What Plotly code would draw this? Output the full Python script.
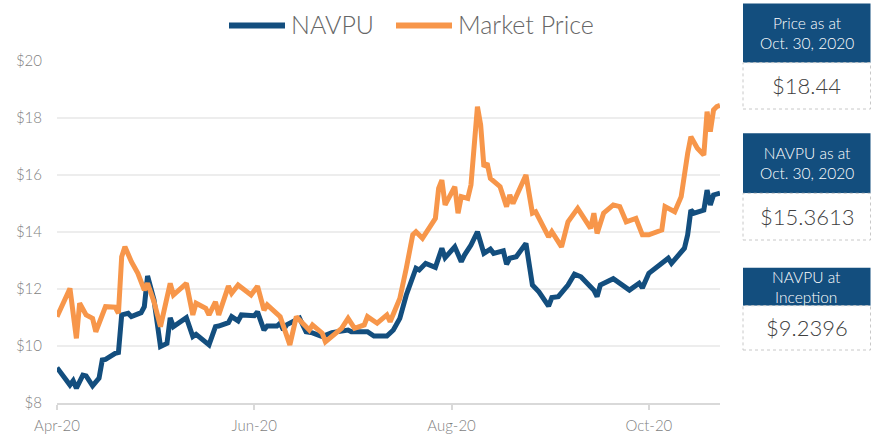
import plotly.graph_objects as go

# ---------------- data ----------------
navpu_dates = ["2020-04-08","2020-04-12","2020-04-13","2020-04-14","2020-04-16","2020-04-17","2020-04-19","2020-04-21","2020-04-22","2020-04-23","2020-04-26","2020-04-27","2020-04-28","2020-04-30",
               "2020-05-01","2020-05-04","2020-05-05","2020-05-06","2020-05-08","2020-05-10","2020-05-12","2020-05-13","2020-05-14","2020-05-18","2020-05-20","2020-05-21","2020-05-25","2020-05-27","2020-05-28","2020-05-31",
               "2020-06-01","2020-06-03","2020-06-04","2020-06-08","2020-06-09","2020-06-11","2020-06-12","2020-06-15","2020-06-16","2020-06-17","2020-06-18","2020-06-22","2020-06-24","2020-06-26","2020-06-29",
               "2020-07-02","2020-07-07","2020-07-08","2020-07-13","2020-07-15","2020-07-19","2020-07-21","2020-07-23","2020-07-25","2020-07-28","2020-07-29","2020-07-31",
               "2020-08-03","2020-08-05","2020-08-06","2020-08-09","2020-08-11","2020-08-12","2020-08-14","2020-08-16","2020-08-18","2020-08-20","2020-08-21","2020-08-24","2020-08-25","2020-08-26","2020-08-28","2020-08-31",
               "2020-09-02","2020-09-04","2020-09-07","2020-09-08","2020-09-10","2020-09-13","2020-09-15","2020-09-17","2020-09-21","2020-09-22","2020-09-23","2020-09-27",
               "2020-10-02","2020-10-05","2020-10-06","2020-10-08","2020-10-10","2020-10-12","2020-10-14","2020-10-15","2020-10-17","2020-10-19","2020-10-20","2020-10-21","2020-10-22","2020-10-25","2020-10-26","2020-10-27","2020-10-28","2020-10-30"]
navpu_values = [9.2396,8.63,8.78,8.52,8.98,8.95,8.60,8.87,9.51,9.53,9.74,9.77,11.09,11.15,
                11.03,11.17,11.38,12.46,11.61,9.98,10.09,10.99,10.68,10.99,10.33,10.41,10.04,10.68,10.70,10.82,
                11.03,10.88,11.09,11.06,11.20,10.56,10.70,10.70,10.80,10.56,10.74,10.98,10.50,10.46,10.33,
                10.47,10.56,10.50,10.50,10.35,10.35,10.56,10.97,11.79,12.73,12.67,12.90,
                12.76,13.43,13.10,13.48,12.96,13.19,13.54,14.01,13.25,13.40,13.25,13.34,12.87,13.08,13.13,13.60,
                12.14,11.90,11.40,11.70,11.73,12.14,12.52,12.43,11.96,11.73,12.14,12.36,
                11.96,12.20,12.04,12.55,12.73,12.90,13.08,12.90,13.19,13.43,13.90,14.77,14.66,14.77,15.47,14.95,15.30,15.3613]

price_dates = ["2020-04-08","2020-04-12","2020-04-14","2020-04-15","2020-04-17","2020-04-19","2020-04-20","2020-04-23","2020-04-26","2020-04-27","2020-04-28","2020-04-29",
               "2020-05-01","2020-05-03","2020-05-05","2020-05-06","2020-05-08","2020-05-10","2020-05-13","2020-05-14","2020-05-18","2020-05-20","2020-05-21","2020-05-24","2020-05-25","2020-05-27","2020-05-28","2020-05-31",
               "2020-06-01","2020-06-03","2020-06-07","2020-06-09","2020-06-11","2020-06-12","2020-06-16","2020-06-19","2020-06-21","2020-06-25","2020-06-26","2020-06-29","2020-06-30",
               "2020-07-02","2020-07-05","2020-07-07","2020-07-09","2020-07-12","2020-07-13","2020-07-16","2020-07-19","2020-07-20","2020-07-23","2020-07-25","2020-07-27","2020-07-28","2020-07-30",
               "2020-08-03","2020-08-04","2020-08-05","2020-08-06","2020-08-09","2020-08-10","2020-08-11","2020-08-13","2020-08-14","2020-08-15","2020-08-16","2020-08-17","2020-08-18","2020-08-19","2020-08-20","2020-08-23","2020-08-25","2020-08-26","2020-08-27","2020-08-31",
               "2020-09-02","2020-09-03","2020-09-07","2020-09-08","2020-09-11","2020-09-13","2020-09-16","2020-09-20","2020-09-21","2020-09-22","2020-09-24","2020-09-27","2020-09-29",
               "2020-10-01","2020-10-04","2020-10-06","2020-10-08","2020-10-12","2020-10-13","2020-10-16","2020-10-18","2020-10-20","2020-10-21","2020-10-23","2020-10-25","2020-10-26","2020-10-27","2020-10-28","2020-10-29","2020-10-30"]
price_values = [11.03,12.02,10.27,11.50,11.09,10.97,10.50,11.38,11.36,11.15,13.13,13.48,
                12.96,12.55,11.96,12.20,11.55,10.68,12.20,11.79,12.20,11.09,11.50,11.32,11.09,11.55,11.09,12.10,
                11.85,12.14,11.79,12.10,11.26,11.44,11.03,10.04,11.03,10.56,10.74,10.45,10.15,
                10.35,10.62,10.97,10.62,10.74,11.03,10.80,11.09,10.85,11.67,12.73,13.90,14.01,13.78,
                14.48,15.53,15.82,14.95,15.59,14.66,15.24,15.18,15.65,17.29,18.40,17.75,16.29,16.41,15.88,15.59,14.89,15.30,15.00,16.00,
                14.66,14.71,13.83,14.01,13.48,14.36,14.83,14.13,14.66,13.95,14.66,14.95,14.89,
                14.36,14.48,13.90,13.90,14.07,14.89,14.71,15.24,16.76,17.34,16.94,16.70,18.22,17.52,18.28,18.40,18.44]

series_names = ["NAVPU", "Market Price"]
series_colors = ["#134E7E", "#F7964A"]

x_tick_dates = ["2020-04-08", "2020-06-08", "2020-08-08", "2020-10-08"]
x_tick_labels = ["Apr-20", "Jun-20", "Aug-20", "Oct-20"]
x_range = ["2020-04-08", "2020-10-30"]
y_range = [8, 20]

box_headers = ["Price as at<br>Oct. 30, 2020", "NAVPU as at<br>Oct. 30, 2020", "NAVPU at<br>Inception"]
box_values = ["$18.44", "$15.3613", "$9.2396"]

# ---------------- layout helpers ----------------
W, H = 877, 434
L, R, T, B = 57, 157, 61, 31
PW, PH = W - L - R, H - T - B


def px(x):
    return (x - L) / PW


def py(y):
    return (H - B - y) / PH


FONT = "Lato"
TEXT_GREY = "#7F7F7F"

fig = go.Figure()
fig.add_trace(go.Scatter(x=navpu_dates, y=navpu_values, mode="lines", name=series_names[0],
                         line=dict(color=series_colors[0], width=5), showlegend=False))
fig.add_trace(go.Scatter(x=price_dates, y=price_values, mode="lines", name=series_names[1],
                         line=dict(color=series_colors[1], width=5), showlegend=False))

shapes = []
annotations = []

# manual legend
legend_items = [(229, 285, 289), (396, 452, 456)]
for (x0, x1, xt), name, col in zip(legend_items, series_names, series_colors):
    shapes.append(dict(type="line", xref="paper", yref="paper", x0=px(x0), x1=px(x1), y0=py(25.5), y1=py(25.5),
                       line=dict(color=col, width=6)))
    annotations.append(dict(xref="paper", yref="paper", x=px(xt), y=py(24), xanchor="left", yanchor="middle",
                            text=name, showarrow=False, font=dict(family=FONT, size=25, color="#666666", weight=300)))

# side boxes
boxes = [(3.5, 62.7, 109), (133.3, 193.3, 240), (267.7, 305.7, 350)]
bx0, bx1 = 743, 870.5
for (h0, h1, v1), head, val in zip(boxes, box_headers, box_values):
    shapes.append(dict(type="rect", xref="paper", yref="paper", x0=px(bx0), x1=px(bx1), y0=py(h1), y1=py(h0),
                       fillcolor="#134E7E", line=dict(width=0)))
    shapes.append(dict(type="rect", xref="paper", yref="paper", x0=px(bx0), x1=px(bx1), y0=py(v1), y1=py(h1),
                       fillcolor="white", line=dict(color="#C8C8C8", width=1, dash="dot")))
    annotations.append(dict(xref="paper", yref="paper", x=px((bx0 + bx1) / 2), y=py((h0 + h1) / 2),
                            xanchor="center", yanchor="middle", text=head, showarrow=False,
                            font=dict(family=FONT, size=15.5, color="white", weight=300)))
    annotations.append(dict(xref="paper", yref="paper", x=px((bx0 + bx1) / 2), y=py((h1 + v1) / 2),
                            xanchor="center", yanchor="middle", text=val, showarrow=False,
                            font=dict(family=FONT, size=22, color="#404040", weight=300)))

fig.update_layout(
    width=W, height=H,
    margin=dict(l=L, r=R, t=T, b=B, autoexpand=False),
    paper_bgcolor="white", plot_bgcolor="white",
    font=dict(family=FONT, color=TEXT_GREY),
    shapes=shapes, annotations=annotations,
    showlegend=False,
)
fig.update_xaxes(type="date", range=x_range, tickvals=x_tick_dates, ticktext=x_tick_labels,
                 showgrid=False, showline=True, linecolor="#D9D9D9", linewidth=2,
                 ticks="outside", ticklen=5, tickwidth=2, tickcolor="#D9D9D9", ticklabelstandoff=3,
                 automargin=False,
                 tickfont=dict(family=FONT, size=15, color=TEXT_GREY, weight=300), zeroline=False)
fig.update_yaxes(range=y_range, dtick=2, tickprefix="$", showgrid=True, gridcolor="#EDEDED", gridwidth=2,
                 showline=False, zeroline=False, ticks="", ticklabelstandoff=14, automargin=False,
                 tickfont=dict(family=FONT, size=15, color=TEXT_GREY, weight=300))

fig.write_html("out.html", config={"displayModeBar": False, "staticPlot": True},
               post_script="document.body.style.margin='0';document.body.style.overflow='hidden';")
